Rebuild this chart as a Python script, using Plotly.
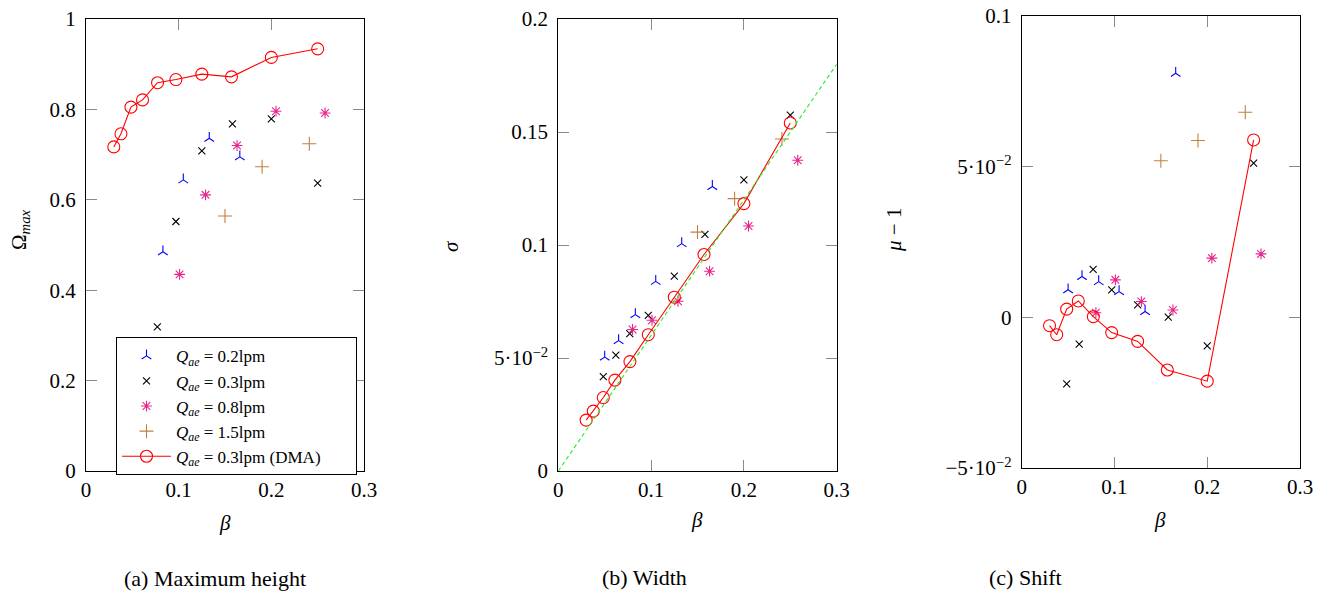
import plotly.graph_objects as go

# ---------------- data ----------------
beta_02 = [0.05, 0.065, 0.083, 0.105, 0.133, 0.166]
beta_03 = [0.0485, 0.062, 0.077, 0.097, 0.125, 0.158, 0.2, 0.25]
beta_08 = [0.08, 0.101, 0.129, 0.163, 0.205, 0.258]
beta_15 = [0.15, 0.19, 0.241]
beta_dma = [0.03, 0.0377, 0.0485, 0.061, 0.0772, 0.097, 0.125, 0.157, 0.2, 0.25]

# (a) maximum height (points hidden behind the legend are unknown -> None)
omega_02 = [None, None, 0.485, 0.644, 0.736, 0.695]
omega_03 = [None, None, 0.319, 0.552, 0.708, 0.768, 0.779, 0.637]
omega_08 = [None, 0.435, 0.611, 0.72, 0.796, 0.792]
omega_15 = [0.564, 0.673, 0.724]
omega_dma = [0.717, 0.746, 0.805, 0.821, 0.859, 0.866, 0.878, 0.872, 0.915, 0.934]

# (b) width
sigma_02 = [0.0504, 0.0577, 0.0692, 0.0839, 0.1006, 0.1259]
sigma_03 = [0.0418, 0.0513, 0.0608, 0.0689, 0.0862, 0.1047, 0.1288, 0.1575]
sigma_08 = [0.0626, 0.0667, 0.0751, 0.0884, 0.1084, 0.1375]
sigma_15 = [0.1057, 0.1205, 0.1469]
sigma_dma = [0.0225, 0.0265, 0.0325, 0.0402, 0.0484, 0.0603, 0.0769, 0.0958, 0.1183, 0.154]
ref_beta = [0.0, 0.3]
ref_sigma = [0.0, 0.18]

# (c) shift
shift_02 = [0.0091, 0.0135, 0.0118, 0.0085, 0.0019, 0.0809]
shift_03 = [-0.0221, -0.0089, 0.0159, 0.0091, 0.0041, 0.0, -0.0095, 0.0511]
shift_08 = [0.0015, 0.0124, 0.0052, 0.0024, 0.0196, 0.021]
shift_15 = [0.0519, 0.0586, 0.068]
shift_dma = [-0.0028, -0.0058, 0.0027, 0.0054, 0.0002, -0.0051, -0.008, -0.0175, -0.0212, 0.0588]

labels = [
    "<i>Q</i><sub><i>ae</i></sub> = 0.2lpm",
    "<i>Q</i><sub><i>ae</i></sub> = 0.3lpm",
    "<i>Q</i><sub><i>ae</i></sub> = 0.8lpm",
    "<i>Q</i><sub><i>ae</i></sub> = 1.5lpm",
    "<i>Q</i><sub><i>ae</i></sub> = 0.3lpm (DMA)",
]

x_ticks = [0, 0.1, 0.2, 0.3]
x_ticktext = ["0", "0.1", "0.2", "0.3"]
ya_ticks = [0, 0.2, 0.4, 0.6, 0.8, 1.0]
ya_text = ["0", "0.2", "0.4", "0.6", "0.8", "1"]
yb_ticks = [0, 0.05, 0.1, 0.15, 0.2]
yb_text = ["0", "5·10<sup>−2</sup>", "0.1", "0.15", "0.2"]
yc_ticks = [-0.05, 0, 0.05, 0.1]
yc_text = ["−5·10<sup>−2</sup>", "0", "5·10<sup>−2</sup>", "0.1"]

# ---------------- styling ----------------
FONT = "Liberation Serif, Times New Roman, serif"
OFF = 8                      # page body margin of the browser
W, H = 1330 - OFF, 594 - OFF
BLUE = "#0000ff"
BLACK = "#000000"
MAGENTA = "#e6268c"
BROWN = "#c0803f"
RED = "#ff0000"
GREEN = "#22ee22"

styles = [
    dict(symbol="y-up", size=8, color=BLUE),
    dict(symbol="x-thin", size=7, color=BLACK),
    dict(symbol="asterisk", size=9, color=MAGENTA),
    dict(symbol="cross-thin", size=10, color=BROWN),
]

fig = go.Figure()

panels = [
    ("x", "y", [omega_02, omega_03, omega_08, omega_15], omega_dma, True),
    ("x2", "y2", [sigma_02, sigma_03, sigma_08, sigma_15], sigma_dma, False),
    ("x3", "y3", [shift_02, shift_03, shift_08, shift_15], shift_dma, False),
]
betas = [beta_02, beta_03, beta_08, beta_15]

for xa, ya, vals, dma, show in panels:
    for i, (b, v) in enumerate(zip(betas, vals)):
        st = styles[i]
        fig.add_trace(go.Scatter(
            x=b, y=v, mode="markers", name=labels[i], xaxis=xa, yaxis=ya,
            showlegend=show, legendgroup=str(i),
            marker=dict(symbol=st["symbol"], size=st["size"], color=st["color"],
                        line=dict(color=st["color"], width=1.1)),
        ))
    fig.add_trace(go.Scatter(
        x=beta_dma, y=dma, mode="lines+markers",
        name=labels[4] + "&nbsp;" * 7, xaxis=xa, yaxis=ya,
        showlegend=show, legendgroup="4",
        line=dict(color=RED, width=1.1),
        marker=dict(symbol="circle-open", size=12, color=RED, line=dict(color=RED, width=1.1)),
    ))
    if xa == "x2":
        fig.add_trace(go.Scatter(
            x=ref_beta, y=ref_sigma, mode="lines", xaxis=xa, yaxis=ya, showlegend=False,
            line=dict(color=GREEN, width=1.1, dash="4px,3px"), hoverinfo="skip",
        ))


def px(v):
    return (v - OFF) / W


def py(v):
    return 1 - (v - OFF) / H


def axis(domain, rng, anchor, tv, tt, standoff):
    return dict(
        domain=domain, range=rng, anchor=anchor, showgrid=False, zeroline=False,
        showline=True, linecolor="black", linewidth=1, mirror="allticks",
        ticks="inside", ticklen=11, tickcolor="#8a8a8a", tickwidth=1,
        tickvals=tv, ticktext=tt, ticklabelstandoff=standoff, automargin=False,
        ticklabeloverflow="allow",
        tickfont=dict(family=FONT, size=21, color="black"),
    )


ydom_ab = [py(471), py(19)]
ydom_c = [py(468), py(15.7)]
fig.update_layout(
    width=W, height=H, margin=dict(l=0, r=0, t=0, b=0, autoexpand=False),
    paper_bgcolor="white", plot_bgcolor="white",
    font=dict(family=FONT, color="black"),
    xaxis=axis([px(86), px(364)], [0, 0.3], "y", x_ticks, x_ticktext, 0),
    yaxis=axis(ydom_ab, [0, 1], "x", ya_ticks, ya_text, 5),
    xaxis2=axis([px(558.3), px(836.7)], [0, 0.3], "y2", x_ticks, x_ticktext, 0),
    yaxis2=axis(ydom_ab, [0, 0.2], "x2", yb_ticks, yb_text, 5),
    xaxis3=axis([px(1021.7), px(1300)], [0, 0.3], "y3", x_ticks, x_ticktext, 0),
    yaxis3=axis(ydom_c, [-0.05, 0.1], "x3", yc_ticks, yc_text, 5),
    legend=dict(
        x=px(116), y=py(337.3), xanchor="left", yanchor="top",
        bgcolor="white", bordercolor="black", borderwidth=1,
        font=dict(family=FONT, size=17, color="black"),
        itemwidth=49, tracegroupgap=0,
    ),
    showlegend=True,
)

ann = [
    (225, 523, "<i>β</i>", 0, 21),
    (697, 520, "<i>β</i>", 0, 21),
    (1160, 520, "<i>β</i>", 0, 21),
    (20, 230, "Ω<sub><i>max</i></sub>", -90, 21),
    (451, 246, "<i>σ</i>", -90, 21),
    (894, 230, "<i>μ</i> − 1", -90, 21),
    (215, 578, "(a) Maximum height", 0, 22),
    (644, 577, "(b) Width", 0, 22),
    (1025, 577, "(c) Shift", 0, 22),
]
for x, y, t, ang, sz in ann:
    fig.add_annotation(
        x=px(x), y=py(y), xref="paper", yref="paper", text=t, showarrow=False,
        textangle=ang, xanchor="center", yanchor="middle",
        font=dict(family=FONT, size=sz, color="black"),
    )

fig.write_html("out.html")
